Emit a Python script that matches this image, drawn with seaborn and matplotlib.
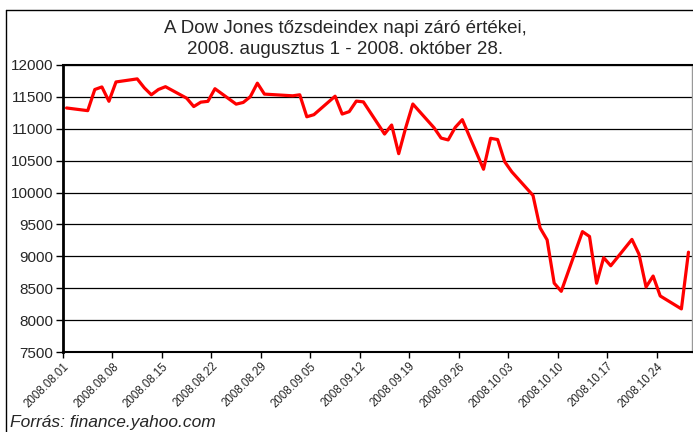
import pandas as pd
import numpy as np
import matplotlib
matplotlib.use("Agg")
from matplotlib import pyplot as plt
import matplotlib.dates as mdates
from matplotlib.lines import Line2D
import seaborn as sns

# Dow Jones closing values, 2008.08.01 - 2008.10.28 (trading days only)
dates = [
    "2008-08-01", "2008-08-04", "2008-08-05", "2008-08-06", "2008-08-07", "2008-08-08",
    "2008-08-11", "2008-08-12", "2008-08-13", "2008-08-14", "2008-08-15",
    "2008-08-18", "2008-08-19", "2008-08-20", "2008-08-21", "2008-08-22",
    "2008-08-25", "2008-08-26", "2008-08-27", "2008-08-28", "2008-08-29",
    "2008-09-02", "2008-09-03", "2008-09-04", "2008-09-05",
    "2008-09-08", "2008-09-09", "2008-09-10", "2008-09-11", "2008-09-12",
    "2008-09-15", "2008-09-16", "2008-09-17", "2008-09-18", "2008-09-19",
    "2008-09-22", "2008-09-23", "2008-09-24", "2008-09-25", "2008-09-26",
    "2008-09-29", "2008-09-30", "2008-10-01", "2008-10-02", "2008-10-03",
    "2008-10-06", "2008-10-07", "2008-10-08", "2008-10-09", "2008-10-10",
    "2008-10-13", "2008-10-14", "2008-10-15", "2008-10-16", "2008-10-17",
    "2008-10-20", "2008-10-21", "2008-10-22", "2008-10-23", "2008-10-24",
    "2008-10-27", "2008-10-28",
]
closes = [
    11326.32, 11284.15, 11615.77, 11656.07, 11431.43, 11734.32,
    11782.35, 11642.47, 11532.96, 11615.93, 11659.90,
    11479.39, 11348.55, 11417.43, 11430.21, 11628.06,
    11386.25, 11412.87, 11502.51, 11715.18, 11543.55,
    11516.92, 11532.88, 11188.23, 11220.96,
    11510.74, 11230.73, 11268.92, 11433.71, 11421.99,
    10917.51, 11059.02, 10609.66, 11019.69, 11388.44,
    11015.69, 10854.17, 10825.17, 11022.06, 11143.13,
    10365.45, 10850.66, 10831.07, 10482.85, 10325.38,
    9955.50, 9447.11, 9258.10, 8579.19, 8451.19,
    9387.61, 9310.99, 8577.91, 8979.26, 8852.22,
    9265.43, 9033.66, 8519.21, 8691.25, 8378.95,
    8175.77, 9065.12,
]
y_ticks = [7500, 8000, 8500, 9000, 9500, 10000, 10500, 11000, 11500, 12000]
title = "A Dow Jones tőzsdeindex napi záró értékei,\n2008. augusztus 1 - 2008. október 28."
source = "Forrás: finance.yahoo.com"

sns.set_theme(style="white")
plt.rcParams["font.family"] = ["Liberation Sans", "DejaVu Sans"]

df = pd.DataFrame({"date": pd.to_datetime(dates), "close": closes})
# Excel date axis puts each point in the middle of its day
df["pos"] = df["date"] + pd.Timedelta(hours=12)

fig = plt.figure(figsize=(6.93, 4.32), dpi=100)
ax = fig.add_axes([63 / 693, 1 - 352 / 432, (692 - 63) / 693, (352 - 65) / 432])

sns.lineplot(data=df, x="pos", y="close", ax=ax, color="#FF0000", linewidth=2.3)

ax.set_ylim(7500, 12000)
ax.set_yticks(y_ticks)
ax.set_xlim(pd.Timestamp("2008-08-01"), pd.Timestamp("2008-10-29"))
ax.set_xticks(pd.date_range("2008-08-01", "2008-10-24", freq="7D"))
ax.xaxis.set_major_formatter(mdates.DateFormatter("%Y.%m.%d"))
ax.set_xlabel("")
ax.set_ylabel("")

ax.grid(axis="y", color="black", linewidth=0.9)
ax.set_axisbelow(True)
ax.tick_params(axis="y", labelsize=11, length=5, width=1, color="black", pad=2, left=True)
ax.tick_params(axis="x", labelsize=8.3, length=4, width=1, color="black", pad=2, bottom=True)
for lab in ax.get_xticklabels():
    lab.set_rotation(45)
    lab.set_ha("right")
    lab.set_rotation_mode("anchor")

for side in ["left", "bottom", "top"]:
    ax.spines[side].set_color("black")
ax.spines["left"].set_linewidth(2)
ax.spines["bottom"].set_linewidth(1.5)
ax.spines["top"].set_linewidth(1.5)
ax.spines["right"].set_color("#999999")
ax.spines["right"].set_linewidth(1)

# outer chart border (top and left sides visible)
fig.add_artist(Line2D([6 / 693, 1.0], [1 - 10 / 432] * 2, transform=fig.transFigure, color="black", linewidth=1))
fig.add_artist(Line2D([6 / 693] * 2, [0.0, 1 - 10 / 432], transform=fig.transFigure, color="black", linewidth=1))

fig.text(345 / 693, 1 - 39 / 432, title, ha="center", va="center", fontsize=13.5, linespacing=1.25)
fig.text(10 / 693, 1 - 422 / 432, source, ha="left", va="center", fontsize=12.5, style="italic")

fig.savefig("out.png", dpi=100)
